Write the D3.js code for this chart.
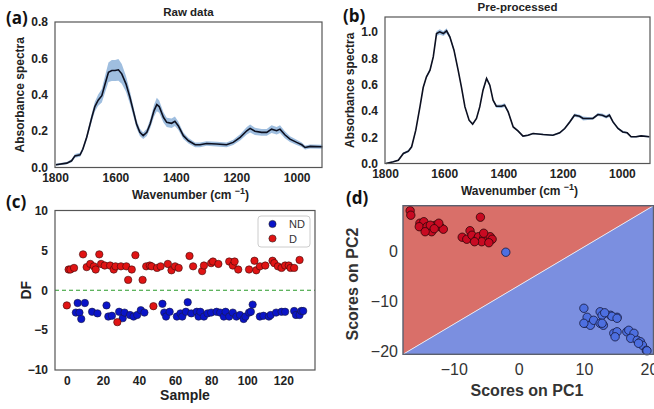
<!DOCTYPE html>
<html>
<head>
<meta charset="utf-8">
<script src="https://cdn.jsdelivr.net/npm/d3@7"></script>
<style>
  body { margin: 0; background: #fff; }
  text { font-family: "Liberation Sans", Arial, sans-serif; }
</style>
</head>
<body>
<svg id="chart" width="654" height="409"></svg>
<script>
// wavenumbers and mean spectra
const rawWn = [1797,1761,1745,1734,1717,1708,1695,1678,1668,1657,1645,1634,1623,1612,1601,1590,1579,1565,1552,1541,1530,1519,1508,1496,1485,1472,1463,1455,1441,1430,1414,1403,1392,1375,1358,1336,1320,1298,1265,1232,1210,1187,1165,1154,1138,1116,1099,1083,1066,1055,1039,1022,1000,983,972,955,915];
const rawMean = [0.015,0.024,0.037,0.064,0.07,0.10,0.166,0.276,0.335,0.37,0.395,0.46,0.524,0.533,0.533,0.537,0.515,0.46,0.386,0.313,0.239,0.193,0.175,0.193,0.239,0.313,0.346,0.335,0.276,0.248,0.243,0.254,0.23,0.175,0.147,0.125,0.125,0.132,0.129,0.125,0.138,0.166,0.202,0.215,0.199,0.193,0.193,0.211,0.202,0.211,0.18,0.156,0.138,0.125,0.11,0.116,0.114];
const rawStd = [0.005,0.006,0.008,0.01,0.011,0.012,0.015,0.022,0.027,0.031,0.037,0.046,0.054,0.058,0.058,0.06,0.054,0.043,0.035,0.028,0.023,0.02,0.018,0.02,0.025,0.032,0.037,0.034,0.028,0.026,0.026,0.026,0.023,0.018,0.015,0.013,0.013,0.013,0.013,0.013,0.014,0.017,0.02,0.022,0.02,0.019,0.019,0.021,0.02,0.021,0.019,0.016,0.014,0.012,0.011,0.011,0.011];

const preWn = [1797,1772,1755,1738,1721,1710,1696,1682,1671,1660,1648,1637,1626,1615,1603,1592,1581,1567,1553,1542,1530,1516,1504,1491,1480,1469,1457,1446,1435,1424,1407,1396,1384,1367,1351,1334,1317,1300,1266,1233,1210,1193,1176,1160,1143,1131,1115,1098,1081,1066,1053,1042,1030,1013,997,982,969,952,935,907];
const preMean = [0,0.013,0.025,0.076,0.094,0.127,0.253,0.43,0.577,0.658,0.709,0.81,0.987,1.0,0.987,1.008,0.962,0.861,0.709,0.582,0.43,0.329,0.299,0.342,0.43,0.557,0.646,0.595,0.481,0.435,0.435,0.443,0.392,0.278,0.248,0.208,0.215,0.228,0.22,0.215,0.233,0.266,0.316,0.367,0.359,0.342,0.342,0.342,0.372,0.367,0.354,0.367,0.316,0.266,0.24,0.233,0.203,0.203,0.21,0.203];
const preStd = [0.003,0.004,0.005,0.008,0.01,0.008,0.008,0.008,0.009,0.01,0.012,0.012,0.018,0.02,0.018,0.02,0.015,0.012,0.01,0.008,0.007,0.006,0.006,0.006,0.008,0.01,0.012,0.01,0.009,0.012,0.014,0.014,0.01,0.007,0.006,0.006,0.006,0.006,0.006,0.006,0.007,0.008,0.01,0.012,0.012,0.016,0.012,0.01,0.012,0.012,0.012,0.014,0.01,0.008,0.008,0.007,0.006,0.006,0.006,0.006];

const wnTicks = [1800, 1600, 1400, 1200, 1000];

// discriminant function per sample
const dSample = [0,1,2,4,9,11,13,15,16,18,19,21,24,26,27,28,30,33,34,36,38,42,44,46,47,48,50,52,56,58,60,62,68,70,75,76,80,81,84,90,92,93,95,101,104,105,107,110,114,115,117,119,121,123,124,126,129];
const dDF =     [-1.9,2.6,2.6,2.8,4.5,2.9,3.3,3.0,2.6,4.5,3.3,3.1,3.1,2.6,3.0,-4.0,3.0,3.0,1.3,2.6,4.4,1.3,3.0,3.1,3.0,-2.0,2.8,3.0,3.3,2.5,3.0,2.8,4.3,3.0,2.4,3.1,3.4,3.6,3.3,3.6,3.1,3.6,2.6,2.6,3.7,2.5,3.0,3.1,3.7,3.4,3.0,2.8,3.1,3.1,2.8,2.8,3.8];
const ndSample = [5,6,7,8,10,14,17,22,23,25,29,31,32,35,37,39,41,43,53,54,55,57,61,63,64,66,67,69,72,73,74,76,78,80,83,85,87,88,90,92,94,96,98,99,101,102,103,107,109,112,113,116,119,121,126,127,129,130,131];
const ndDF =     [-2.8,-1.6,-2.8,-3.6,-1.6,-2.7,-2.9,-1.9,-3.3,-3.2,-2.7,-3.5,-2.8,-3.1,-3.3,-3.1,-2.5,-2.8,-1.7,-2.8,-3.3,-2.7,-3.3,-2.9,-3.3,-2.7,-1.5,-2.9,-2.7,-3.3,-2.7,-3.3,-2.9,-2.8,-2.7,-2.8,-3.3,-2.7,-3.3,-2.8,-3.3,-3.1,-3.6,-3.3,-2.8,-2.7,-1.8,-3.3,-3.2,-3.3,-3.1,-2.8,-2.7,-2.7,-2.6,-3.1,-3.1,-2.6,-2.6];

// PCA scores
const redPC1 = [-16.7,-16.6,-15.2,-14.6,-15.3,-14.1,-13.4,-12.8,-12.1,-11.6,-12.3,-14.4,-13.6,-13.0,-5.9,-8.7,-8.0,-7.5,-7.2,-6.4,-6.2,-5.4,-4.9,-4.4,-4.1,-5.7,-5.4,-6.8,-4.6];
const redPC2 = [8.2,7.3,5.7,6.0,5.0,5.0,4.0,5.3,5.0,4.5,5.7,4.0,5.3,4.6,6.9,2.9,2.5,4.2,3.3,2.5,3.0,2.7,2.3,3.0,2.5,2.0,3.7,2.0,1.8];
const bluePC1 = [-2.0,10.0,10.2,10.5,11.0,10.0,11.5,12.5,12.8,14.1,15.1,12.5,13.0,12.8,14.3,14.6,15.1,14.8,16.6,16.9,17.7,17.2,18.2,18.7,19.0,19.6,19.7,18.4,15.1,13.2];
const bluePC2 = [-0.1,-11.3,-14.3,-13.1,-14.7,-14.3,-13.7,-12.0,-12.7,-12.7,-13.1,-14.3,-14.7,-14.3,-12.9,-16.3,-16.0,-17.0,-16.0,-15.7,-16.3,-17.3,-17.7,-18.0,-18.7,-19.7,-19.8,-18.3,-13.3,-12.2];
// decision boundary end points (PC1, PC2)
const boundary = [[-17.8, -20.5], [20.7, 9.2]];

const FONT = "'Liberation Sans', Arial, sans-serif";
const svg = d3.select("#chart");
const minus = d => d < 0 ? "\u2212" + (-d) : String(d);

function styleAxis(g, size, bold, color) {
    g.select(".domain").remove();
    g.attr("font-family", FONT);
    g.selectAll("text").attr("font-size", size)
        .attr("font-weight", bold ? "bold" : "normal").attr("fill", color);
}

function spectrumPanel(o) {
    const x = d3.scaleLinear().domain(o.xDomain).range([o.left, o.right]);
    const y = d3.scaleLinear().domain(o.yDomain).range([o.bottom, o.top]);

    const area = d3.area()
        .x((d, i) => x(o.wn[i]))
        .y0((d, i) => y(o.mean[i] - o.std[i]))
        .y1((d, i) => y(o.mean[i] + o.std[i]));
    const line = d3.line()
        .x((d, i) => x(o.wn[i]))
        .y((d, i) => y(o.mean[i]));

    svg.append("path").datum(o.mean).attr("d", area)
        .attr("fill", "#7fa8d4").attr("opacity", 0.75);
    svg.append("path").datum(o.mean).attr("d", line)
        .attr("fill", "none").attr("stroke", "#0d1020").attr("stroke-width", 1.6);

    svg.append("rect")
        .attr("x", o.left).attr("y", o.top)
        .attr("width", o.right - o.left).attr("height", o.bottom - o.top)
        .attr("fill", "none").attr("stroke", "#555").attr("stroke-width", 1.2);

    const xa = svg.append("g").attr("transform", `translate(0,${o.bottom})`)
        .call(d3.axisBottom(x).tickValues(wnTicks).tickFormat(d3.format("d")).tickSize(0).tickPadding(6));
    const ya = svg.append("g").attr("transform", `translate(${o.left},0)`)
        .call(d3.axisLeft(y).tickValues(o.yTicks).tickFormat(d3.format(".1f")).tickSize(0).tickPadding(7));
    styleAxis(xa, 12, true, "#222");
    styleAxis(ya, 12, true, "#222");

    svg.append("text").attr("x", (o.left + o.right) / 2).attr("y", o.top - 6)
        .attr("text-anchor", "middle").attr("font-size", 11.5).attr("font-weight", "bold")
        .attr("fill", "#222").text(o.title);

    const xl = svg.append("text").attr("x", (o.left + o.right) / 2 + 2).attr("y", o.bottom + 31)
        .attr("text-anchor", "middle").attr("font-size", 12).attr("font-weight", "bold").attr("fill", "#222");
    xl.append("tspan").text("Wavenumber (cm ");
    xl.append("tspan").attr("dy", -5).attr("font-size", 9).text("\u22121");
    xl.append("tspan").attr("dy", 5).text(")");

    svg.append("text")
        .attr("transform", `translate(${o.left - 31},${(o.top + o.bottom) / 2}) rotate(-90)`)
        .attr("text-anchor", "middle").attr("font-size", 12).attr("font-weight", "bold")
        .attr("fill", "#222").text("Absorbance spectra");
}

spectrumPanel({
    left: 55, right: 322, top: 22, bottom: 167.5,
    xDomain: [1800, 916], yDomain: [0, 0.8], yTicks: [0, 0.2, 0.4, 0.6, 0.8],
    wn: rawWn, mean: rawMean, std: rawStd, title: "Raw data"
});
spectrumPanel({
    left: 385, right: 650, top: 17, bottom: 163.5,
    xDomain: [1800, 905], yDomain: [0, 1.113], yTicks: [0, 0.2, 0.4, 0.6, 0.8, 1.0],
    wn: preWn, mean: preMean, std: preStd, title: "Pre-processed"
});

// panel (c): discriminant function per sample
{
    const left = 55, right = 315, top = 210.5, bottom = 370;
    const x = d3.scaleLinear().domain([-6.55, 137.55]).range([left, right]);
    const y = d3.scaleLinear().domain([-10, 10]).range([bottom, top]);

    svg.append("line").attr("x1", left).attr("x2", right).attr("y1", y(0)).attr("y2", y(0))
        .attr("stroke", "#2a9a2a").attr("stroke-width", 1.2).attr("stroke-dasharray", "4,3");

    svg.append("g").selectAll("circle").data(ndSample).join("circle")
        .attr("cx", d => x(d)).attr("cy", (d, i) => y(ndDF[i])).attr("r", 3.7)
        .attr("fill", "#0a14c8").attr("stroke", "#1a1a40").attr("stroke-width", 0.6);
    svg.append("g").selectAll("circle").data(dSample).join("circle")
        .attr("cx", d => x(d)).attr("cy", (d, i) => y(dDF[i])).attr("r", 3.7)
        .attr("fill", "#e01414").attr("stroke", "#3a0a0a").attr("stroke-width", 0.6);

    svg.append("rect").attr("x", left).attr("y", top)
        .attr("width", right - left).attr("height", bottom - top)
        .attr("fill", "none").attr("stroke", "#555").attr("stroke-width", 1.2);

    const xa = svg.append("g").attr("transform", `translate(0,${bottom})`)
        .call(d3.axisBottom(x).tickValues([0, 20, 40, 60, 80, 100, 120]).tickSize(0).tickPadding(6));
    const ya = svg.append("g").attr("transform", `translate(${left},0)`)
        .call(d3.axisLeft(y).tickValues([-10, -5, 0, 5, 10]).tickFormat(minus).tickSize(0).tickPadding(7));
    styleAxis(xa, 12, true, "#222");
    styleAxis(ya, 12, true, "#222");

    svg.append("text").attr("x", (left + right) / 2).attr("y", 400)
        .attr("text-anchor", "middle").attr("font-size", 14).attr("font-weight", "bold")
        .attr("fill", "#222").text("Sample");
    svg.append("text").attr("transform", `translate(31,${(top + bottom) / 2}) rotate(-90)`)
        .attr("text-anchor", "middle").attr("font-size", 14).attr("font-weight", "bold")
        .attr("fill", "#222").text("DF");

    // legend
    const lg = svg.append("g");
    lg.append("rect").attr("x", 258).attr("y", 216).attr("width", 52).attr("height", 31).attr("rx", 3)
        .attr("fill", "#fff").attr("stroke", "#ccc");
    [["ND", "#0a14c8"], ["D", "#e01414"]].forEach((e, i) => {
        lg.append("circle").attr("cx", 272.5).attr("cy", 224 + i * 14.5).attr("r", 3.6)
            .attr("fill", e[1]).attr("stroke", "#222").attr("stroke-width", 0.6);
        lg.append("text").attr("x", 289).attr("y", 228 + i * 14.5).attr("font-size", 11)
            .attr("fill", "#333").text(e[0]);
    });
}

// panel (d): PCA score plot with decision regions
{
    const left = 403, right = 653.5, top = 205.7, bottom = 354.3;
    const x = d3.scaleLinear().domain([-17.8, 20.7]).range([left, right]);
    const y = d3.scaleLinear().domain([-20.5, 9.2]).range([bottom, top]);

    const b0 = [x(boundary[0][0]), y(boundary[0][1])];
    const b1 = [x(boundary[1][0]), y(boundary[1][1])];
    svg.append("polygon").attr("points", [[left, bottom], [left, top], [right, top], b1, b0].join(" "))
        .attr("fill", "#d96f69");
    svg.append("polygon").attr("points", [b0, b1, [right, bottom], [left, bottom]].join(" "))
        .attr("fill", "#7b8fe0");
    svg.append("line").attr("x1", b0[0]).attr("y1", b0[1]).attr("x2", b1[0]).attr("y2", b1[1])
        .attr("stroke", "#e8e8f0").attr("stroke-width", 1);

    svg.append("g").selectAll("circle").data(redPC1).join("circle")
        .attr("cx", d => x(d)).attr("cy", (d, i) => y(redPC2[i])).attr("r", 4.2)
        .attr("fill", "#c80a22").attr("stroke", "#2a0808").attr("stroke-width", 0.8);
    svg.append("g").selectAll("circle").data(bluePC1).join("circle")
        .attr("cx", d => x(d)).attr("cy", (d, i) => y(bluePC2[i])).attr("r", 4.2)
        .attr("fill", "#4d6fe0").attr("stroke", "#15183a").attr("stroke-width", 0.8);

    svg.append("rect").attr("x", left).attr("y", top)
        .attr("width", right - left).attr("height", bottom - top)
        .attr("fill", "none").attr("stroke", "#5a5f6e").attr("stroke-width", 1.4);

    const xa = svg.append("g").attr("transform", `translate(0,${bottom})`)
        .call(d3.axisBottom(x).tickValues([-10, 0, 10, 20]).tickFormat(minus).tickSize(0).tickPadding(9));
    const ya = svg.append("g").attr("transform", `translate(${left},0)`)
        .call(d3.axisLeft(y).tickValues([-20, -10, 0]).tickFormat(minus).tickSize(0).tickPadding(5));
    styleAxis(xa, 16, false, "#333");
    styleAxis(ya, 16, false, "#333");

    svg.append("text").attr("x", 527).attr("y", 396)
        .attr("text-anchor", "middle").attr("font-size", 16).attr("font-weight", "bold")
        .attr("fill", "#333").text("Scores on PC1");
    svg.append("text").attr("transform", `translate(358,${(top + bottom) / 2 + 4}) rotate(-90)`)
        .attr("text-anchor", "middle").attr("font-size", 16).attr("font-weight", "bold")
        .attr("fill", "#333").text("Scores on PC2");
}

// panel letters
[["(a)", 6, 24], ["(b)", 343, 22], ["(c)", 6, 208], ["(d)", 346, 204]].forEach(p => {
    svg.append("text").attr("x", p[1]).attr("y", p[2]).attr("font-size", 17)
        .attr("font-weight", "bold").attr("fill", "#111")
        .style("font-family", "'Open Sans', sans-serif").text(p[0]);
});
</script>
</body>
</html>
